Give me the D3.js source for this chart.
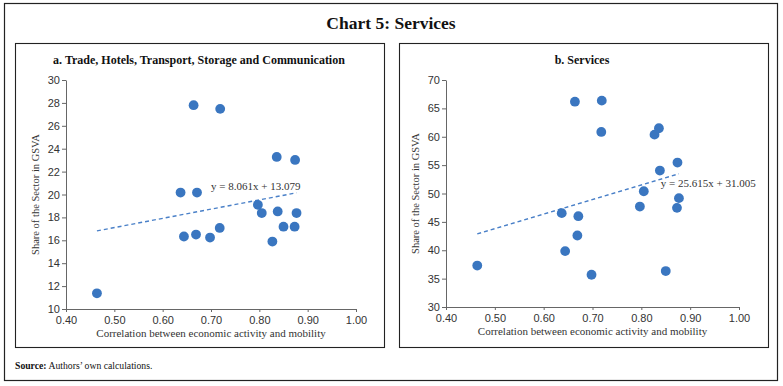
<!DOCTYPE html>
<html>
<head>
<meta charset="utf-8">
<script src="https://cdn.jsdelivr.net/npm/d3@7"></script>
<style>
  body { margin: 0; background: #fff; }
  svg { display: block; font-family: 'Liberation Serif', 'DejaVu Serif', serif; }
</style>
</head>
<body>
<svg id="chart" width="783" height="386"></svg>
<script>
'use strict';

// correlation between economic activity and mobility (one value per state)
const correlation = [0.464, 0.637, 0.644, 0.664, 0.669, 0.671, 0.698, 0.718, 0.719,
  0.797, 0.805, 0.827, 0.836, 0.838, 0.850, 0.873, 0.874, 0.877];
// a. Trade, Hotels, Transport, Storage and Communication share in GSVA
const tradeShare = [11.37, 20.17, 16.33, 27.8, 16.5, 20.17, 16.24, 17.08, 27.48,
  19.1, 18.38, 15.89, 23.28, 18.52, 17.19, 17.19, 23.02, 18.38];
// b. Services share in GSVA
const servicesShare = [37.3, 46.54, 39.85, 66.18, 42.6, 46.0, 35.68, 60.85, 66.36,
  47.7, 50.4, 60.37, 61.5, 54.04, 36.33, 47.47, 55.45, 49.18];

const xTicks = [0.4, 0.5, 0.6, 0.7, 0.8, 0.9, 1.0];
const tradeTicks = [10, 12, 14, 16, 18, 20, 22, 24, 26, 28, 30];
const servicesTicks = [30, 35, 40, 45, 50, 55, 60, 65, 70];

const DOT = '#3a76c0';
const AXIS = '#666';

const svg = d3.select('#chart');

// outer frame and title
svg.append('rect').attr('x', 4.5).attr('y', 3.5).attr('width', 773).attr('height', 377)
  .attr('fill', 'none').attr('stroke', '#222').attr('stroke-width', 1.2);
svg.append('text').attr('x', 391).attr('y', 29).attr('text-anchor', 'middle')
  .attr('font-weight', 'bold').attr('font-size', 17.5).attr('fill', '#111')
  .text('Chart 5: Services');

const source = svg.append('text').attr('x', 15).attr('y', 369).attr('font-size', 9.7).attr('fill', '#111');
source.append('tspan').attr('font-weight', 'bold').text('Source:');
source.append('tspan').text(' Authors\u2019 own calculations.');

function drawPanel(opts) {
  const g = svg.append('g');
  g.append('rect').attr('x', opts.box[0] + 0.5).attr('y', 43.5)
    .attr('width', opts.box[1] - opts.box[0]).attr('height', 304)
    .attr('fill', 'none').attr('stroke', '#222').attr('stroke-width', 1.1);

  g.append('text').attr('x', opts.titleX).attr('y', 64).attr('text-anchor', 'middle')
    .attr('font-weight', 'bold').attr('font-size', 12).attr('fill', '#111')
    .text(opts.title);

  const x = d3.scaleLinear().domain([0.4, 1.0]).range(opts.xRange);
  const y = d3.scaleLinear().domain(opts.yDomain).range(opts.yRange);

  // x axis
  g.append('g')
    .attr('transform', `translate(0,${opts.yRange[0]})`)
    .call(d3.axisBottom(x).tickValues(xTicks).tickFormat(d3.format('.2f')).tickSize(3).tickSizeOuter(0))
    .call((a) => a.select('.domain').attr('stroke', AXIS))
    .call((a) => a.selectAll('.tick line').attr('stroke', AXIS))
    .call((a) => a.selectAll('.tick text').attr('fill', '#333').attr('font-size', 11)
      .attr('font-family', null).attr('dy', '0.85em'));

  // y axis
  g.append('g')
    .attr('transform', `translate(${opts.xRange[0]},0)`)
    .call(d3.axisLeft(y).tickValues(opts.yTicks).tickSize(4).tickSizeOuter(0))
    .call((a) => a.select('.domain').attr('stroke', AXIS))
    .call((a) => a.selectAll('.tick line').attr('stroke', AXIS))
    .call((a) => a.selectAll('.tick text').attr('fill', '#333').attr('font-size', 11)
      .attr('font-family', null).attr('x', -6));

  g.append('text')
    .attr('x', (opts.xRange[0] + opts.xRange[1]) / 2)
    .attr('y', opts.yRange[0] + 28)
    .attr('text-anchor', 'middle').attr('font-size', 11).attr('fill', '#333')
    .text('Correlation between economic activity and mobility');

  g.append('text')
    .attr('transform', `translate(${opts.xRange[0] - 27},${(opts.yRange[0] + opts.yRange[1]) / 2}) rotate(-90)`)
    .attr('text-anchor', 'middle').attr('font-size', 10.5).attr('fill', '#333')
    .text('Share of the Sector in GSVA');

  // linear trend
  const [slope, intercept] = opts.trend;
  const xs = d3.extent(correlation);
  g.append('line')
    .attr('x1', x(xs[0])).attr('y1', y(slope * xs[0] + intercept))
    .attr('x2', x(xs[1])).attr('y2', y(slope * xs[1] + intercept))
    .attr('stroke', '#4a80c8').attr('stroke-width', 1.4).attr('stroke-dasharray', '4,3');

  g.append('text').attr('x', x(opts.labelAt[0])).attr('y', y(opts.labelAt[1]))
    .attr('font-size', 11).attr('fill', '#333')
    .text(`y = ${slope}x + ${intercept.toFixed(3)}`);

  g.append('g').selectAll('circle')
    .data(correlation.map((c, i) => [c, opts.values[i]]))
    .join('circle')
    .attr('cx', (d) => x(d[0])).attr('cy', (d) => y(d[1]))
    .attr('r', 4.9).attr('fill', DOT);
}

drawPanel({
  box: [15, 384],
  title: 'a. Trade, Hotels, Transport, Storage and Communication',
  titleX: 199,
  xRange: [66, 356],
  yDomain: [10, 30],
  yRange: [309, 80],
  yTicks: tradeTicks,
  values: tradeShare,
  trend: [8.061, 13.079],
  labelAt: [0.70, 20.4],
});

drawPanel({
  box: [399, 768],
  title: 'b. Services',
  titleX: 582,
  xRange: [446, 739],
  yDomain: [30, 70],
  yRange: [307, 80],
  yTicks: servicesTicks,
  values: servicesShare,
  trend: [25.615, 31.005],
  labelAt: [0.84, 51.2],
});
</script>
</body>
</html>
